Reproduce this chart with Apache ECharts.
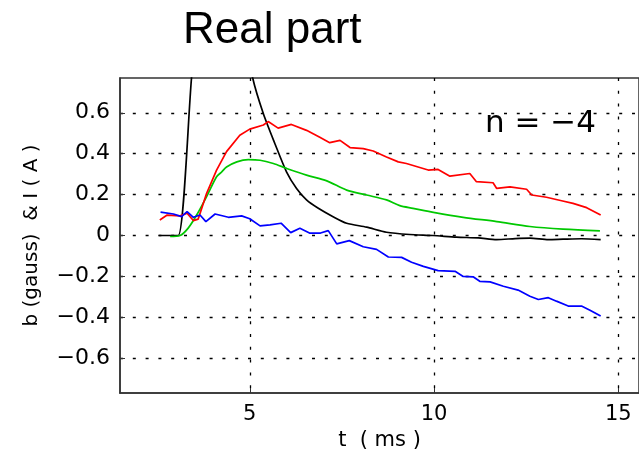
<!DOCTYPE html>
<html>
	<head>
		<meta charset="UTF-8">
		<title>Real part</title>
		<script src="https://cdn.jsdelivr.net/npm/echarts@6/dist/echarts.min.js"></script>
		<style>
			html, body { margin: 0; padding: 0; background: #fff; }
			#chart { width: 639px; height: 456px; }
		</style>
	</head>
	<body>
		<div id="chart"></div>
		<script>
			// tick values
			var xTicks = [5, 10, 15];
			var yTicks = [-0.6, -0.4, -0.2, 0, 0.2, 0.4, 0.6];

			// black
			var tBlack = [2.53, 2.8, 3.06, 3.42, 3.8, 4.3, 4.55, 4.8, 5.08, 5.37, 5.68, 6.0, 6.27, 6.54, 6.86, 7.26, 7.63, 8.17, 8.71, 9.34, 9.97, 10.61, 11.2, 11.7, 12.2, 12.6, 13.1, 13.5, 14.0, 14.52];
			var vBlack = [0, 0, 0, 0.77, 1.55, 1.9, 1.5, 1.05, 0.77, 0.595, 0.45, 0.31, 0.23, 0.174, 0.133, 0.092, 0.06, 0.041, 0.016, 0.005, 0, -0.008, -0.012, -0.02, -0.015, -0.013, -0.02, -0.018, -0.016, -0.02];

			// red
			var tRed = [2.56, 2.76, 3.11, 3.3, 3.47, 3.6, 3.83, 4.1, 4.37, 4.73, 5.0, 5.37, 5.5, 5.77, 6.13, 6.54, 6.9, 7.17, 7.45, 7.72, 8.08, 8.35, 8.71, 9.03, 9.25, 9.84, 10.11, 10.43, 10.97, 11.15, 11.6, 11.7, 12.06, 12.51, 12.65, 13.05, 13.46, 13.77, 14.14, 14.52];
			var vRed = [0.076, 0.1, 0.096, 0.109, 0.073, 0.08, 0.206, 0.32, 0.41, 0.49, 0.52, 0.54, 0.557, 0.525, 0.543, 0.514, 0.48, 0.454, 0.465, 0.43, 0.425, 0.413, 0.384, 0.36, 0.352, 0.32, 0.323, 0.29, 0.303, 0.263, 0.258, 0.23, 0.238, 0.226, 0.198, 0.187, 0.17, 0.157, 0.136, 0.1];

			// green
			var tGreen = [2.84, 3.11, 3.33, 3.56, 3.83, 4.1, 4.24, 4.37, 4.65, 4.96, 5.28, 5.64, 6.0, 6.54, 7.09, 7.63, 8.17, 8.71, 9.07, 9.43, 10.02, 10.79, 11.7, 12.6, 13.5, 14.5];
			var vGreen = [-0.005, 0, 0.036, 0.1, 0.19, 0.287, 0.311, 0.335, 0.36, 0.371, 0.368, 0.352, 0.328, 0.295, 0.267, 0.222, 0.198, 0.174, 0.146, 0.133, 0.112, 0.089, 0.068, 0.044, 0.031, 0.023];

			// blue
			var tBlue = [2.58, 2.93, 3.15, 3.3, 3.47, 3.65, 3.81, 4.06, 4.42, 4.78, 5.0, 5.28, 5.55, 5.85, 6.11, 6.36, 6.62, 6.92, 7.13, 7.36, 7.7, 8.08, 8.44, 8.76, 9.12, 9.39, 9.71, 10.11, 10.57, 10.79, 11.06, 11.24, 11.52, 11.88, 12.28, 12.6, 12.83, 13.1, 13.32, 13.64, 14.0, 14.23, 14.52];
			var vBlue = [0.114, 0.105, 0.092, 0.117, 0.089, 0.1, 0.068, 0.105, 0.089, 0.096, 0.082, 0.047, 0.052, 0.06, 0.014, 0.035, 0.012, 0.012, 0.024, -0.041, -0.025, -0.055, -0.068, -0.105, -0.107, -0.131, -0.151, -0.172, -0.175, -0.2, -0.202, -0.224, -0.227, -0.248, -0.267, -0.297, -0.313, -0.304, -0.321, -0.345, -0.345, -0.365, -0.394];

			function pairs(t, v) {
				var out = [];
				for(var i = 0; i < t.length; i++) {
					out.push([t[i], v[i]]);
				}
				return out;
			}

			function minusFmt(v) {
				if(v < 0) return '\u2212' + Math.abs(v);
				return '' + v;
			}

			var font = 'Liberation Sans, Arial, Helvetica, sans-serif';
			var wide = 'DejaVu Sans, sans-serif';
			var dotted = {
				show: true,
				lineStyle: { color: '#000', width: 1.3, type: [3, 9.8] }
			};

			function lineSeries(name, data, color, smooth) {
				return {
					name: name,
					type: 'line',
					data: data,
					showSymbol: false,
					smooth: smooth,
					clip: true,
					lineStyle: { color: color, width: 1.7 },
					itemStyle: { color: color },
					emphasis: { disabled: true },
					animation: false
				};
			}

			var myChart = echarts.init(document.getElementById('chart'));
			var option = {
				backgroundColor: '#fff',
				animation: false,
				title: [{
					text: 'Real part',
					left: 178,
					top: 4,
					textStyle: { fontFamily: font, fontSize: 44, fontWeight: 'normal', color: '#000' }
				}, {
					text: 'n = \u22124',
					left: 480,
					top: 103,
					textStyle: { fontFamily: wide, fontSize: 31, fontWeight: 'normal', color: '#000' }
				}],
				grid: {
					left: 120,
					top: 78,
					right: 0,
					bottom: 63,
					show: true,
					borderColor: '#333',
					borderWidth: 1.5
				},
				xAxis: {
					type: 'value',
					min: 1.48,
					max: 15.56,
					name: 't  ( ms )',
					nameLocation: 'middle',
					nameGap: 35,
					nameTextStyle: { fontFamily: wide, fontSize: 21, color: '#000' },
					axisLine: { show: true, onZero: false, lineStyle: { color: '#333', width: 1.5 } },
					axisTick: { show: true, inside: true, length: 5, customValues: xTicks, lineStyle: { color: '#333' } },
					axisLabel: { customValues: xTicks, fontFamily: wide, fontSize: 21, color: '#000', margin: 11 },
					splitLine: dotted
				},
				yAxis: {
					type: 'value',
					min: -0.77,
					max: 0.77,
					name: 'b (gauss)  & I ( A )',
					nameLocation: 'middle',
					nameGap: 78,
					nameTextStyle: { fontFamily: wide, fontSize: 20, color: '#000' },
					axisLine: { show: true, onZero: false, lineStyle: { color: '#333', width: 1.5 } },
					axisTick: { show: true, inside: true, length: 5, customValues: yTicks, lineStyle: { color: '#333' } },
					axisLabel: { customValues: yTicks, formatter: minusFmt, fontFamily: wide, fontSize: 22, color: '#000', margin: 10 },
					splitLine: dotted
				},
				series: [
					lineSeries('black', pairs(tBlack, vBlack), '#000000', 0.25),
					lineSeries('green', pairs(tGreen, vGreen), '#00c800', 0.3),
					lineSeries('red', pairs(tRed, vRed), '#ff0000', false),
					lineSeries('blue', pairs(tBlue, vBlue), '#0000ff', false)
				]
			};
			myChart.setOption(option);
		</script>
	</body>
</html>
